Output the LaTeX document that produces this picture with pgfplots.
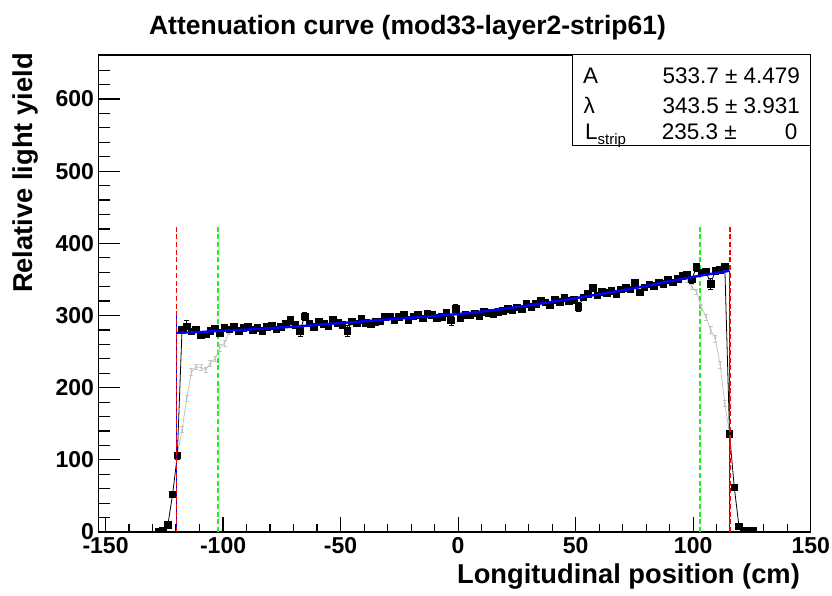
\documentclass[border=0pt]{standalone}
\usepackage{pgfplots}
\pgfplotsset{compat=1.18}
\usepackage{pgfplotstable}
\usepackage{fontspec}
\setmainfont{Liberation Sans}

\definecolor{limitgreen}{RGB}{30,240,30}
\definecolor{rawgrey}{RGB}{195,195,195}

% corrected light yield per position bin
\pgfplotstableread{
x y ey
-127.50 0.5 0.5
-125.49 2 1
-123.48 10 2
-121.48 52 4
-119.47 106 5
-117.46 281 4
-115.45 285 8
-113.44 278 4
-111.44 281 4
-109.43 273 4
-107.42 274 4
-105.41 279 4
-103.40 282 4
-101.40 276 4
-99.39 283.5 4
-97.38 281 4
-95.37 284.5 4
-93.36 279 4
-91.36 283 4
-89.35 284.5 4
-87.34 280 4
-85.33 283 4
-83.32 279 4
-81.32 284 4
-79.31 286 4
-77.30 281 4
-75.29 284 4
-73.28 288 4
-71.28 293.5 5
-69.27 287 4
-67.26 279 8
-65.25 299 5
-63.24 289 4
-61.24 284 4
-59.23 291 4
-57.22 288 4
-55.21 285 4
-53.20 294.5 5
-51.20 290 4
-49.19 287 4
-47.18 279 7
-45.17 292 4
-43.16 289 4
-41.16 295 6
-39.15 290 4
-37.14 288 4
-35.13 291 4
-33.12 292 4
-31.12 298 4
-29.11 299 4
-27.10 293 4
-25.09 298 4
-23.08 301 4
-21.08 294 4
-19.07 299 4
-17.06 301 4
-15.05 296 4
-13.04 302 4
-11.04 300.5 4
-9.03 297 4
-7.02 298 4
-5.01 304 4
-3.00 293 6
-1.00 309 7
1.01 296 4
3.02 301 4
5.03 300 4
7.04 303 4
9.04 299 4
11.05 305 4
13.06 304 4
15.07 302 4
17.08 305 4
19.08 306 4
21.09 309 4
23.10 307 4
25.11 311 4
27.12 309 4
29.12 316 4
31.13 312 4
33.14 316 4
35.15 321 4
37.16 318 4
39.16 314 4
41.17 322 4
43.18 319 4
45.19 324 4
47.20 320 4
49.20 322 4
51.21 312 6
53.22 325 4
55.23 330 4
57.24 338 5
59.24 328 4
61.25 333 4
63.26 331 4
65.27 334 4
67.28 330 4
69.28 336 4
71.29 338 4
73.30 336 4
75.31 345 4
77.32 332 4
79.32 339 4
81.33 343 4
83.34 341 4
85.35 346 4
87.36 344 4
89.36 349 4
91.37 346 4
93.38 351 4
95.39 355 4
97.40 357 4
99.40 350 5
101.41 367 5
103.42 360 4
105.43 361 4
107.44 344 8
109.44 362 4
111.45 363 4
113.46 368 4
115.47 136 5
117.48 62 3
119.48 8 2
121.49 2 1
123.50 2 1
125.51 2 1
}\corrdata

% uncorrected yield near the strip ends
\pgfplotstableread{
x y ey
-119.47 106 4
-117.46 142 4
-115.45 185 4
-113.44 222 5
-111.44 229 4
-109.43 228 4
-107.42 225 4
-105.41 234 4
-103.40 240 4
-101.40 255 5
-99.39 262 4
-97.38 278 4
}\rawleft
\pgfplotstableread{
x y ey
97.40 350 4
99.40 340 4
101.41 333 4
103.42 312 4
105.43 298 4
107.44 280 5
109.44 268 5
111.45 232 5
113.46 178 4
115.47 136 4
}\rawright

% attenuation fit
\pgfplotstableread{
x y
-119.8 276
-110 277
-100 279
-90 280.5
-80 282.5
-70 284.5
-60 287
-50 289.5
-40 292
-30 294.5
-20 297
-10 299.5
0 302
10 305.5
20 309.5
30 314
40 319
50 324
60 329.5
70 335
80 341
90 347.5
100 353.5
110 359
115.4 362
}\fitdata

\begin{document}
\begin{tikzpicture}
\begin{axis}[
  scale only axis, width=712.2pt, height=477pt,
  at={(0,0)}, anchor=south west,
  xmin=-153, xmax=150, ymin=0, ymax=661,
  clip marker paths=true,
  axis line style={line width=1.3pt},
  tick pos=left, tick align=inside,
  xtick={-150,-100,-50,0,50,100,150},
  xticklabels={-150,-100,-50,0,50,100,150},
  xtick style={draw=none},
  ytick={0,100,200,300,400,500,600},
  yticklabels={0,100,200,300,400,500,600},
  minor ytick={20,40,...,660},
  major tick length=21.7pt, minor tick length=11.7pt,
  ytick style={black, line width=1.2pt},
  tick label style={font=\bfseries\fontsize{23}{23}\selectfont},
  xticklabel style={yshift=-2pt},
  yticklabel style={xshift=-1pt},
]
% x-axis tick marks: shorter than those of the y axis
\pgfplotsinvokeforeach{-150,-100,-50,0,50,100,150}{
  \draw[line width=1.2pt] (axis cs:#1,0) -- ++(0pt,15pt);}
\pgfplotsinvokeforeach{-140,-130,-120,-110,-90,-80,-70,-60,-40,-30,-20,-10,10,20,30,40,60,70,80,90,110,120,130,140}{
  \draw[line width=1.2pt] (axis cs:#1,0) -- ++(0pt,7.7pt);}
% fit window
\addplot[color=limitgreen, line width=2pt, dash pattern=on 5pt off 2.7pt] coordinates {(-102.3,0) (-102.3,425)};
\addplot[color=limitgreen, line width=2pt, dash pattern=on 5pt off 2.7pt] coordinates {(102.7,0) (102.7,425)};
\addplot[color=rawgrey, line width=0.8pt, mark=*, mark size=0.6pt,
  error bars/.cd, y dir=both, y explicit,
  error bar style={color=rawgrey, line width=0.7pt},
  error mark options={color=rawgrey, rotate=90, mark size=2pt}]
  table[x=x, y=y, y error=ey]{\rawleft};
\addplot[color=rawgrey, line width=0.8pt, mark=*, mark size=0.6pt,
  error bars/.cd, y dir=both, y explicit,
  error bar style={color=rawgrey, line width=0.7pt},
  error mark options={color=rawgrey, rotate=90, mark size=2pt}]
  table[x=x, y=y, y error=ey]{\rawright};
\addplot[black, line width=0.8pt, mark=square*, mark size=3.3pt,
  error bars/.cd, y dir=both, y explicit,
  error bar style={black, line width=0.8pt},
  error mark options={black, rotate=90, mark size=2.5pt}]
  table[x=x, y=y, y error=ey]{\corrdata};
\addplot[blue, line width=2.4pt] table[x=x, y=y]{\fitdata};
\addplot[blue, line width=1.2pt] coordinates {(-119.8,0) (-119.8,305)};
\addplot[blue, line width=1.2pt] coordinates {(115.4,362) (115.4,0)};
% strip edges
\addplot[color=red, line width=1.6pt, dash pattern=on 5pt off 2.7pt] coordinates {(-119.8,0) (-119.8,425)};
\addplot[color=red, line width=2pt, dash pattern=on 5pt off 2.7pt] coordinates {(115.6,0) (115.6,425)};
\end{axis}

% fit parameter box
\draw[fill=white, line width=1pt] (473.5pt,386pt) rectangle (712.2pt,477pt);
\begin{scope}[every node/.style={inner sep=0pt, font=\fontsize{22.5}{22.5}\selectfont}]
\node[anchor=base west] at (484.5pt,448.7pt) {A};
\node[anchor=base west] at (563.8pt,448.7pt) {533.7 ± 4.479};
\node[anchor=base west] at (484.8pt,418.7pt) {λ};
\node[anchor=base west] at (563.8pt,418.7pt) {343.5 ± 3.931};
\node[anchor=base west] at (486.5pt,392pt) {L\raisebox{-5pt}{\fontsize{15}{15}\selectfont strip}};
\node[anchor=base west] at (563.2pt,392pt) {235.3 ±};
\node[anchor=base east] at (699pt,392pt) {0};
\end{scope}

% titles
\node[anchor=base, inner sep=0pt, font=\bfseries\fontsize{26.5}{26.5}\selectfont]
  at (309pt,497pt) {Attenuation curve (mod33-layer2-strip61)};
\node[anchor=base east, inner sep=0pt, font=\bfseries\fontsize{27.3}{27.3}\selectfont]
  at (701.5pt,-52pt) {Longitudinal position (cm)};
\node[anchor=base east, rotate=90, inner sep=0pt, font=\bfseries\fontsize{27.3}{27.3}\selectfont]
  at (-65.5pt,479pt) {Relative light yield};

\pgfresetboundingbox
\path (-98.5pt,-64pt) rectangle (733.5pt,532pt);
\end{tikzpicture}
\end{document}
